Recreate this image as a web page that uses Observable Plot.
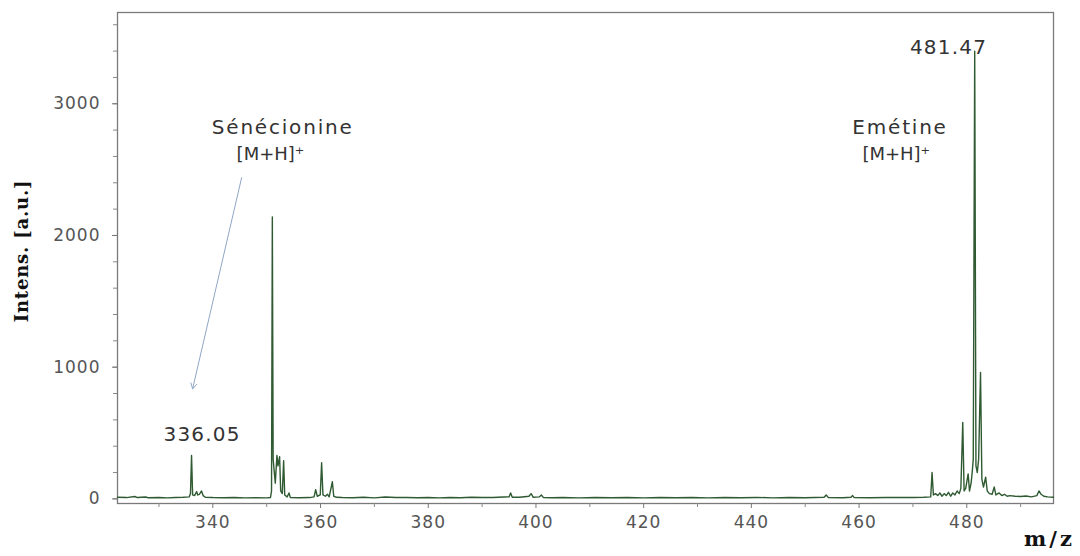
<!DOCTYPE html>
<html>
<head>
<meta charset="utf-8">
<script src="https://cdn.jsdelivr.net/npm/d3@7"></script>
<script src="https://cdn.jsdelivr.net/npm/@observablehq/plot@0.6"></script>
<style>
  html, body { margin: 0; padding: 0; background: #fff; }
</style>
</head>
<body>
<div id="chart"></div>
<script>
// Spectrum profile (m/z, intensity in a.u.)
const spectrumMz = [
  322.3, 324, 325.5, 326, 327.5, 328, 330, 331.5, 333, 334.5,
  335.6, 335.85, 336.05, 336.25, 336.6, 337.0, 337.2, 337.5, 337.9, 338.2, 338.6,
  340, 342, 344, 346, 348, 350, 350.7,
  350.9, 351.05, 351.2, 351.6, 351.9, 352.1, 352.4, 352.6, 352.9, 353.15, 353.35, 353.8, 354.15, 354.4,
  356, 358, 358.8, 359.1, 359.4, 359.95, 360.2, 360.45, 360.9, 361.3, 361.6, 362.2, 362.45, 363,
  364, 366, 368, 370, 372, 374, 376, 378, 380, 382, 384, 386, 388, 390, 392, 394,
  395.0, 395.3, 395.6, 397, 398.7, 399.1, 399.5, 400.6, 401, 401.4,
  403, 405, 408, 411, 414, 417, 420, 423, 426, 429, 432, 435, 438, 441, 444, 447, 450,
  453.5, 453.9, 454.3, 457, 458.5, 458.8, 459.1, 462, 465, 468,
  470, 472, 473.3, 473.55, 473.8, 474.2, 474.6, 475, 475.4, 475.8, 476.2, 476.6, 477, 477.4, 477.8,
  478.2, 478.6, 478.9, 479.25, 479.5, 479.8, 480.25, 480.5, 480.8, 481.0, 481.2, 481.47, 481.7,
  481.95, 482.2, 482.55, 482.8, 483.1, 483.5, 483.8, 484.2, 484.7, 485.1, 485.4, 486, 486.5,
  487, 487.5, 488, 489, 490, 491, 492, 493, 493.4, 493.8, 494.3, 495, 496.1
];
const spectrumInt = [
  12, 10, 18, 10, 14, 9, 11, 8, 10, 12,
  15, 40, 330, 30, 25, 55, 30, 35, 60, 25, 12,
  10, 9, 10, 8, 9, 8, 10,
  60, 2140, 300, 120, 330, 250, 320, 60, 40, 290, 30, 15, 45, 10,
  9, 10, 15, 70, 20, 30, 275, 30, 20, 35, 15, 130, 20, 12,
  10, 9, 12, 8, 14, 10, 11, 9, 10, 8, 10, 9, 12, 10, 11, 14,
  15, 45, 12, 12, 20, 40, 12, 15, 30, 10,
  9, 11, 8, 10, 9, 11, 8, 10, 9, 11, 8, 10, 9, 11, 8, 10, 9,
  12, 30, 10, 9, 12, 25, 10, 9, 11, 10,
  10, 12, 15, 200, 30, 40, 25, 45, 20, 40, 25, 50, 20, 45, 30,
  60, 40, 80, 580, 60, 80, 190, 60, 120, 200, 300, 3400, 250,
  200, 300, 960, 150, 90, 165, 60, 40, 35, 90, 30, 45, 25,
  35, 20, 25, 20, 18, 22, 15, 25, 60, 35, 20, 15, 12
];

// Axis ticks
const xTicks = [340, 360, 380, 400, 420, 440, 460, 480];
const xMinorTicks = [330, 350, 370, 390, 410, 430, 450, 470, 490];
const yTicks = [0, 1000, 2000, 3000];
const yMinorTicks = [0, 200, 400, 600, 800, 1000, 1200, 1400, 1600, 1800, 2000, 2200, 2400, 2600, 2800, 3000, 3200, 3400, 3600];

// Annotations
const nameText = ["Sénécionine", "Emétine"];
const nameMz = [352.97, 467.6];
const nameInt = [2820, 2820];
const ionText = ["[M+H]⁺", "[M+H]⁺"];
const ionMz = [350.7, 466.9];
const ionInt = [2615, 2615];
const peakLabelText = ["336.05", "481.47"];
const peakLabelMz = [338.0, 476.6];
const peakLabelInt = [485, 3429];
const arrowFromMz = [345.35], arrowFromInt = [2439];
const arrowToMz = [336.25], arrowToInt = [836];

const spectrum = spectrumMz.map((mz, i) => ({mz, intensity: spectrumInt[i]}));
const names = nameText.map((t, i) => ({t, mz: nameMz[i], v: nameInt[i]}));
const ions = ionText.map((t, i) => ({t, mz: ionMz[i], v: ionInt[i]}));
const peakLabels = peakLabelText.map((t, i) => ({t, mz: peakLabelMz[i], v: peakLabelInt[i]}));
const arrows = arrowFromMz.map((m, i) => ({x1: m, y1: arrowFromInt[i], x2: arrowToMz[i], y2: arrowToInt[i]}));

const chart = Plot.plot({
  width: 1080,
  height: 556,
  marginLeft: 117,
  marginRight: 27,
  marginTop: 12,
  marginBottom: 53,
  style: {fontFamily: "DejaVu Sans", background: "#fff", color: "#555"},
  x: {domain: [322.3, 496.1]},
  y: {domain: [-35, 3693]},
  marks: [
    Plot.frame({stroke: "#7a7a7a", strokeWidth: 1.3}),
    Plot.axisY({ticks: yMinorTicks, tickSize: 4, tickFormat: () => "", label: null, stroke: "#888"}),
    Plot.axisY({ticks: yTicks, tickSize: 5, tickPadding: 12, fontSize: 17, tickFormat: d => String(d), label: null, stroke: "#777", fill: "#555"}),
    Plot.axisX({ticks: xMinorTicks, tickSize: 4, tickFormat: () => "", label: null, stroke: "#888"}),
    Plot.axisX({ticks: xTicks, tickSize: 5, tickPadding: 7, fontSize: 17, tickFormat: d => String(d), label: null, stroke: "#777", fill: "#555"}),
    Plot.line(spectrum, {x: "mz", y: "intensity", stroke: "#2f5a32", strokeWidth: 1.4}),
    Plot.arrow(arrows, {x1: "x1", y1: "y1", x2: "x2", y2: "y2", stroke: "#8fa6c6", strokeWidth: 1, headLength: 9}),
    Plot.text(names, {x: "mz", y: "v", text: "t", fontSize: 20, fill: "#333"}),
    Plot.text(ions, {x: "mz", y: "v", text: "t", fontSize: 18, fill: "#333"}),
    Plot.text(peakLabels, {x: "mz", y: "v", text: "t", fontSize: 20, fill: "#333"}),
    Plot.text(["Intens. [a.u.]"], {frameAnchor: "left", textAnchor: "middle", dx: -95, dy: -7, rotate: -90, fontSize: 18, fontWeight: "bold", fontFamily: "DejaVu Serif", fill: "#111"}),
    Plot.text(["m/z"], {frameAnchor: "bottom-right", textAnchor: "middle", dx: -4, dy: 42, fontSize: 21, fontWeight: "bold", fontFamily: "DejaVu Serif", fill: "#111"})
  ]
});

// Letter spacing to match the wide lettering of the reference
const spacing = new Map([
  ["Sénécionine", 1.8], ["Emétine", 1.8], ["336.05", 1.2], ["481.47", 1.2],
  ["Intens. [a.u.]", 0.8], ["m/z", 3]
]);
d3.select(chart).selectAll("text").each(function () {
  const t = this.textContent;
  if (spacing.has(t)) this.style.letterSpacing = spacing.get(t) + "px";
  else if (/^\d+$/.test(t)) this.style.letterSpacing = "1px";
});
document.getElementById("chart").appendChild(chart);
</script>
</body>
</html>
